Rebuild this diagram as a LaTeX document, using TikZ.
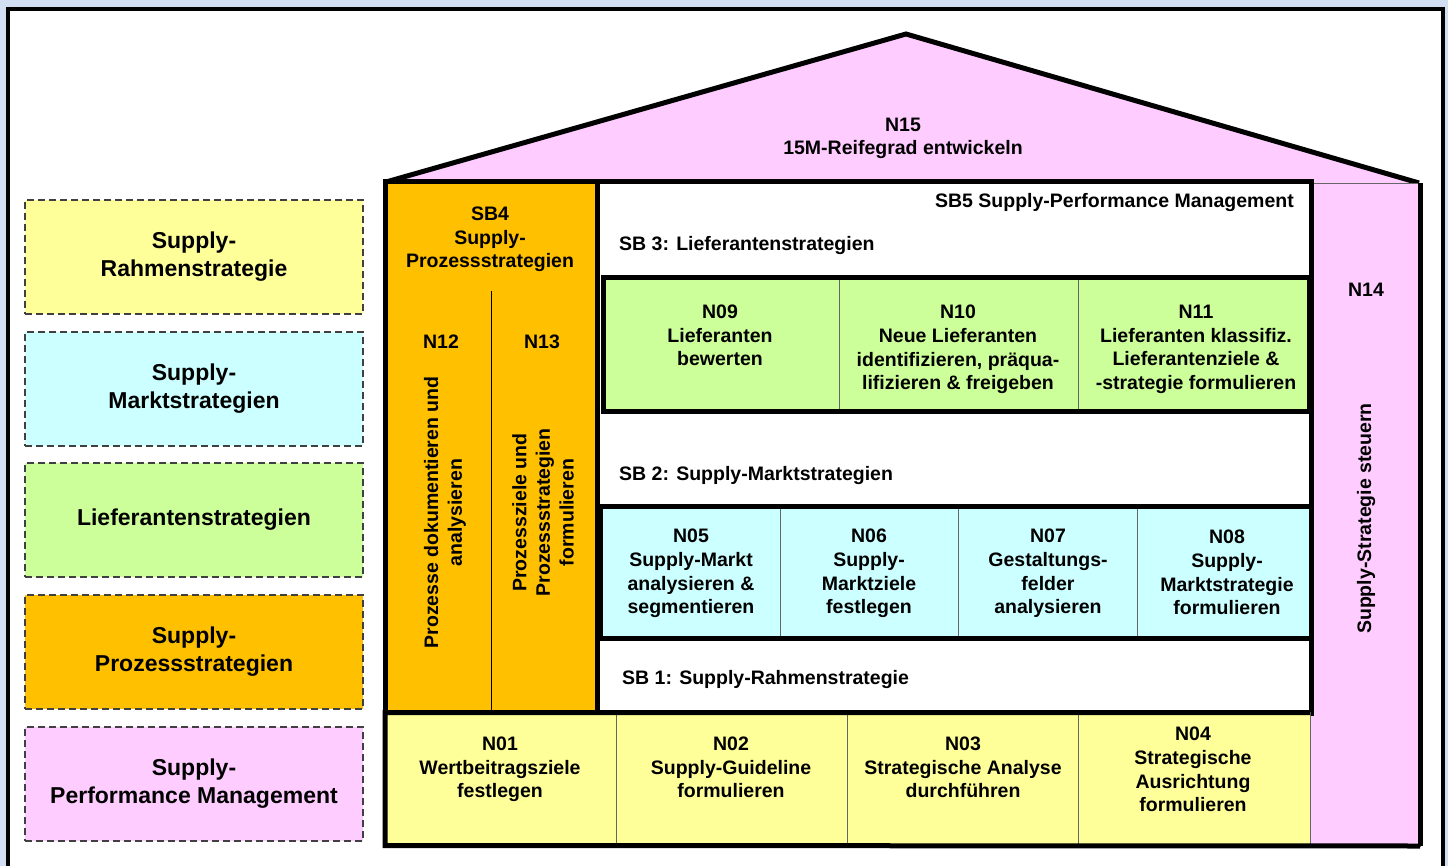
\documentclass[tikz,border=0pt]{standalone}
\usepackage{fontspec}
\setmainfont{Liberation Sans}
\usetikzlibrary{positioning}

\definecolor{bgblue}{HTML}{D2DEF2}
\definecolor{rahmen}{HTML}{FFFF99}
\definecolor{markt}{HTML}{CCFFFF}
\definecolor{liefer}{HTML}{CCFF99}
\definecolor{prozess}{HTML}{FFC000}
\definecolor{perform}{HTML}{FFCCFF}

\begin{document}
\begin{tikzpicture}[x=1pt,y=-1pt,
  txt/.style={font=\fontsize{19.5}{23.6}\selectfont\bfseries,align=center,inner sep=0pt,yshift=-2.5pt},
  legtxt/.style={font=\fontsize{23}{28}\selectfont\bfseries,align=center},
  legbox/.style={draw=black!75,line width=1.6,dash pattern=on 7pt off 4pt,
    minimum width=338,minimum height=114,outer sep=0pt,legtxt},
  frame/.style={draw=black,line width=5,outer sep=0pt,inner sep=0pt},
  cell/.style={draw=black!60,line width=0.8,outer sep=0pt,inner sep=0pt}]

\useasboundingbox (0,0) rectangle (1448,866);
\fill [bgblue] (0,0) rectangle (1448,866);
\fill [white] (8,9) rectangle (1443,870);
\draw [line width=4] (8,870) -- (8,9) -- (1443,9) -- (1443,870);

% legend
\node [legbox,fill=rahmen]  (l1) at (194,257) {Supply-\\Rahmenstrategie};
\node [legbox,fill=markt]   (l2) at (194,389) {Supply-\\Marktstrategien};
\node [legbox,fill=liefer]  (l3) at (194,520) {Lieferantenstrategien};
\node [legbox,fill=prozess] (l4) at (194,652) {Supply-\\Prozessstrategien};
\node [legbox,fill=perform] (l5) at (194,784) {Supply-\\Performance Management};

% roof
\fill [perform] (386,182) -- (906,34) -- (1419,183) -- cycle;
\draw [line width=5,line join=miter] (386,182) -- (906,34) -- (1419,183);
\node [txt] (n15) at (903,136) {N15\\15M-Reifegrad entwickeln};

% N14 column
\node [cell,fill=perform,minimum width=110,minimum height=663] (n14col) at (1365,514.5) {};
\draw [line width=5] (n14col.north east) -- (n14col.south east);
\node [txt] (n14) at (1366,287) {N14};
\node [txt,rotate=90] (n14t) at (1366,516) {Supply-Strategie steuern};

% SB5 / SB3 / SB2 / SB1
\node [frame,fill=white,minimum width=714,minimum height=531] (sb5box) at (954,447.5) {};
\node [txt,anchor=east] (sb5) at (1294,200) {SB5 Supply-Performance Management};
\node [txt,anchor=west] (sb3) at (619,243) {SB 3: Lieferantenstrategien};
\node [txt,anchor=west] (sb2) at (619,473) {SB 2: Supply-Marktstrategien};
\node [txt,anchor=west] (sb1) at (622,677) {SB 1: Supply-Rahmenstrategie};

% Lieferantenstrategien row
\node [cell,fill=liefer,minimum width=236,minimum height=134] (g1) at (721,344.5) {};
\node [cell,fill=liefer,minimum width=239,minimum height=134] (g2) at (958.5,344.5) {};
\node [cell,fill=liefer,minimum width=231,minimum height=134] (g3) at (1193.5,344.5) {};
\draw [line width=5] (g1.north west) rectangle (g3.south east);
\node [txt] (n09) at (720,333) {N09\\Lieferanten\\bewerten};
\node [txt] (n10) at (958,347) {N10\\Neue Lieferanten\\identifizieren, präqua-\\lifizieren \& freigeben};
\node [txt] (n11) at (1196,347) {N11\\Lieferanten klassifiz.\\Lieferantenziele \&\\-strategie formulieren};

% Marktstrategien row
\node [cell,fill=markt,minimum width=180,minimum height=132.5] (c1) at (690,572.25) {};
\node [cell,fill=markt,minimum width=178,minimum height=132.5] (c2) at (869,572.25) {};
\node [cell,fill=markt,minimum width=179,minimum height=132.5] (c3) at (1047.5,572.25) {};
\node [cell,fill=markt,minimum width=174,minimum height=132.5] (c4) at (1224,572.25) {};
\draw [line width=5] (c1.north west) rectangle (c4.south east);
\node [txt] (n05) at (691,571) {N05\\Supply-Markt\\analysieren \&\\segmentieren};
\node [txt] (n06) at (869,571) {N06\\Supply-\\Marktziele\\festlegen};
\node [txt] (n07) at (1048,571) {N07\\Gestaltungs-\\felder\\analysieren};
\node [txt] (n08) at (1227,570) {N08\\Supply-\\Marktstrategie\\formulieren};

% SB4 column
\node [frame,fill=prozess,minimum width=212,minimum height=531] (sb4box) at (491,447.5) {};
\draw [line width=1] (491,291) -- (491,711);
\node [txt] (sb4) at (490,237) {SB4\\Supply-\\Prozessstrategien};
\node [txt] (n12) at (441,339) {N12};
\node [txt,rotate=90] (n12t) at (445,510) {Prozesse dokumentieren und\\analysieren};
\node [txt] (n13) at (542,339) {N13};
\node [txt,rotate=90] (n13t) at (543,510) {Prozessziele und\\Prozessstrategien\\formulieren};

% Rahmenstrategie row
\node [cell,fill=rahmen,minimum width=231,minimum height=133] (y1) at (500.5,779) {};
\node [cell,fill=rahmen,minimum width=231,minimum height=133] (y2) at (731.5,779) {};
\node [cell,fill=rahmen,minimum width=231,minimum height=133] (y3) at (962.5,779) {};
\node [cell,fill=rahmen,minimum width=232,minimum height=133] (y4) at (1194,779) {};
\draw [line width=5] (y4.north east) -- (y1.north west) -- (y1.south west) -- (n14col.south east);
\node [txt] (n01) at (500,767) {N01\\Wertbeitragsziele\\festlegen};
\node [txt] (n02) at (731,765) {N02\\Supply-Guideline\\formulieren};
\node [txt] (n03) at (963,765) {N03\\Strategische Analyse\\durchführen};
\node [txt] (n04) at (1193,767) {N04\\Strategische\\Ausrichtung\\formulieren};

\end{tikzpicture}
\end{document}
